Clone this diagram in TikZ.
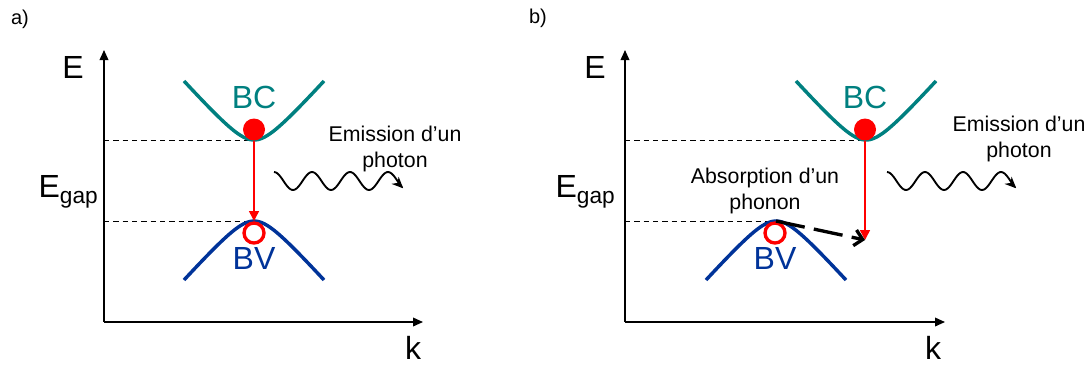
\documentclass[tikz,border=0pt]{standalone}
\usepackage{fontspec}
\setmainfont{Liberation Sans}
\usetikzlibrary{arrows.meta, positioning}

\definecolor{bcteal}{RGB}{0,128,128}
\definecolor{bvblue}{RGB}{0,51,153}

\tikzset{
  axis/.style={line width=1.1pt, -{Triangle[length=7.5pt, width=6.5pt]}},
  level/.style={line width=0.75pt, dash pattern=on 4pt off 3pt},
  band/.style={line width=2.6pt},
  big/.style={font=\fontsize{24}{28}\selectfont, inner sep=0pt},
  small/.style={font=\fontsize{16}{19}\selectfont, align=center, inner sep=0pt},
  label/.style={font=\fontsize{15}{17}\selectfont, inner sep=0pt},
  electron/.style={circle, fill=red, minimum size=16.5pt, inner sep=0pt},
  hole/.style={circle, draw=red, fill=white, line width=2.5pt, minimum size=15pt, inner sep=0pt},
  trans/.style={red, line width=1.1pt, -{Triangle[length=7.5pt, width=7.5pt]}},
  wave/.style={line width=1.4pt, -{Stealth[length=8.5pt, width=7.5pt]}},
  phonon/.style={line width=2.5pt, dash pattern=on 22pt off 7pt, -{Straight Barb[length=6pt, width=12pt]}},
}

\begin{document}
\begin{tikzpicture}[x=0.75pt, y=-0.75pt,
  declare function={bandup(\u)=59*(sqrt(\u*\u+400)-20)/52.80;}]
\useasboundingbox (0,0) rectangle (1088,365);

% a) direct gap
\node[label] (la) at (20,19) {a)};
\coordinate (Oa) at (104,322);
\coordinate (Ya) at (104,50);
\coordinate (Xa) at (423,322);
\draw[axis] (Oa) -- (Ya);
\draw[axis] (Oa) -- (Xa);
\node[big] (Ea) at (73,67) {E};
\node[big, anchor=east] (Ega) at (98,192) {E\raisebox{-4pt}{\fontsize{17}{17}\selectfont gap}};
\node[big] (ka) at (413,348) {k};

\coordinate (cba) at (254,140);
\coordinate (vba) at (254,221);
\draw[level] (Oa |- cba) -- (cba);
\draw[level] (Oa |- vba) -- (vba);

\draw[band, bcteal] plot[domain=-70:70, samples=41, smooth] ({254+\x},{140-bandup(\x)});
\draw[band, bvblue] plot[domain=-70:70, samples=41, smooth] ({254+\x},{221+bandup(\x)});
\node[big, text=bcteal] (BCa) at (254,97) {BC};
\node[big, text=bvblue] (BVa) at (254,258) {BV};

\node[electron] (ea) at (254,129.5) {};
\node[hole] (ha) at (254,233) {};
\draw[trans] (ea) -- (vba);

\node[small] (pha) at (395,149) {Emission d’un\\photon};
\draw[wave, shift={(274,172)}] plot[domain=0:3.4, samples=80, smooth] ({38*\x},{9-9*cos(360*\x)});

% b) indirect gap
\node[label] (lb) at (538,18) {b)};
\coordinate (Ob) at (625,322);
\coordinate (Yb) at (625,50);
\coordinate (Xb) at (945,322);
\draw[axis] (Ob) -- (Yb);
\draw[axis] (Ob) -- (Xb);
\node[big] (Eb) at (595,67) {E};
\node[big, anchor=east] (Egb) at (615,192) {E\raisebox{-4pt}{\fontsize{17}{17}\selectfont gap}};
\node[big] (kb) at (933,348) {k};

\coordinate (cbb) at (865,140);
\coordinate (vbb) at (776,221);
\coordinate (tipb) at (865,240);
\draw[level] (Ob |- cbb) -- (cbb);
\draw[level] (Ob |- vbb) -- (vbb);

\draw[band, bcteal] plot[domain=-70:70, samples=41, smooth] ({866+\x},{140-bandup(\x)});
\draw[band, bvblue] plot[domain=-70:70, samples=41, smooth] ({776+\x},{221+bandup(\x)});
\node[big, text=bcteal] (BCb) at (865,97) {BC};
\node[big, text=bvblue] (BVb) at (775,258) {BV};

\node[electron] (eb) at (865,129.5) {};
\node[hole] (hb) at (775,233) {};
\draw[trans] (eb) -- (tipb);
\draw[phonon] (vbb) -- (tipb);

\node[small] (phab) at (765,191) {Absorption d’un\\phonon};
\node[small] (phb) at (1019,139) {Emission d’un\\photon};
\draw[wave, shift={(887,172)}] plot[domain=0:3.4, samples=80, smooth] ({38*\x},{9-9*cos(360*\x)});

\end{tikzpicture}
\end{document}
